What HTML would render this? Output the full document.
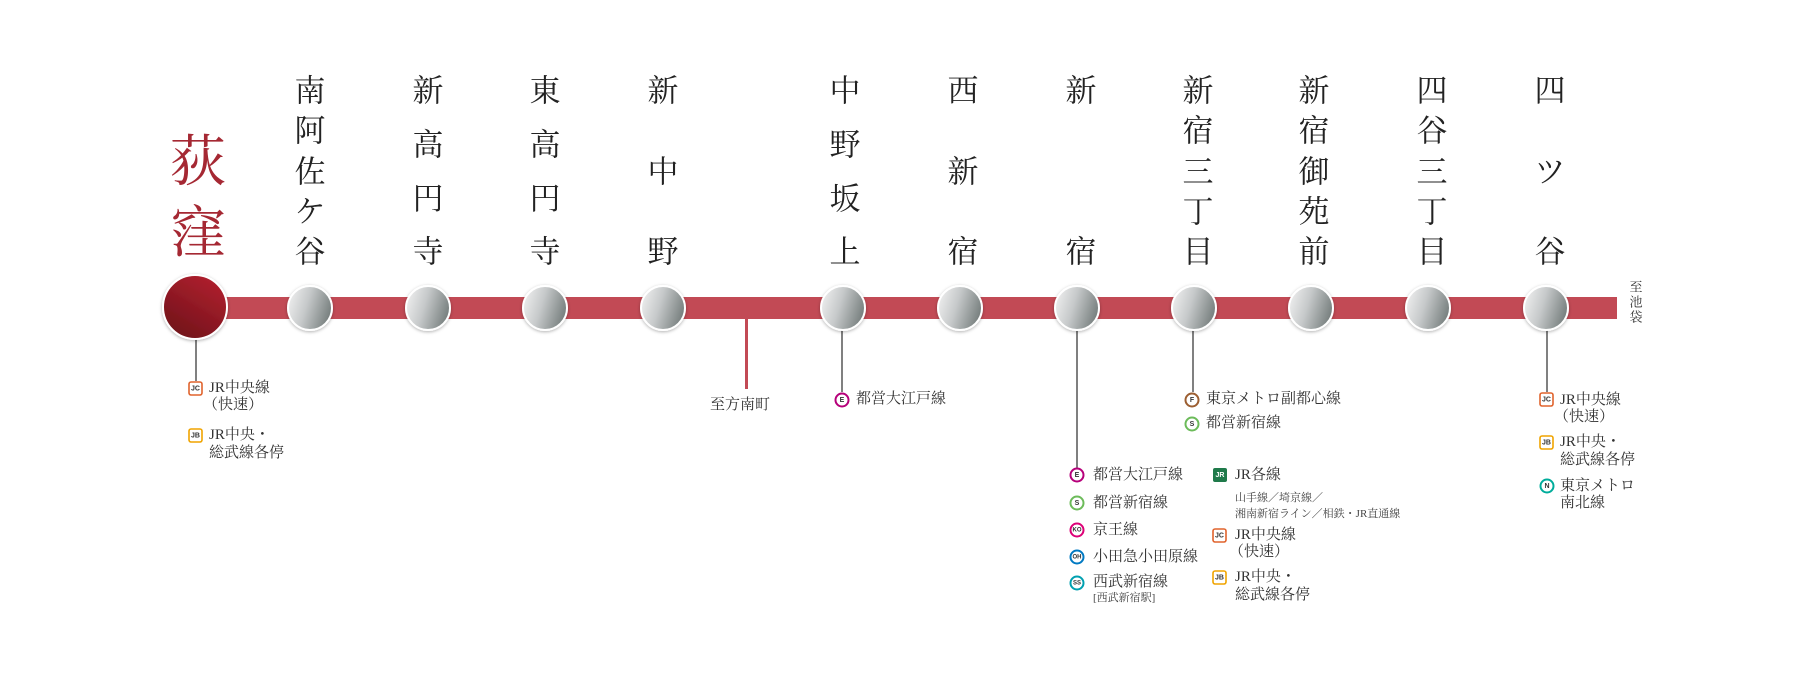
<!DOCTYPE html>
<html><head><meta charset="utf-8">
<style>
html,body{margin:0;padding:0;background:#fff;}
svg{display:block;}
.st{font-family:"Liberation Serif","Noto Serif CJK SC",serif;font-size:31px;fill:#222;}
.lb{font-family:"Liberation Serif","Noto Serif CJK SC",serif;font-size:15px;fill:#333;}
.sm{font-family:"Liberation Serif","Noto Serif CJK SC",serif;font-size:11px;fill:#444;}
.bd{font-family:"Liberation Sans",sans-serif;font-size:7px;font-weight:bold;}
</style></head><body>
<svg width="1808" height="693" viewBox="0 0 1808 693" xmlns="http://www.w3.org/2000/svg">
<defs>
<linearGradient id="g" x1="0" y1="0.2" x2="1" y2="0.5">
<stop offset="0" stop-color="#f0f0f0"/><stop offset="0.45" stop-color="#c6c9ca"/><stop offset="1" stop-color="#78807f"/></linearGradient>
<linearGradient id="r" x1="0.8" y1="0" x2="0.2" y2="1">
<stop offset="0" stop-color="#b2212f"/><stop offset="1" stop-color="#6e1119"/></linearGradient>
<filter id="sh" x="-30%" y="-30%" width="160%" height="160%"><feDropShadow dx="0" dy="1" stdDeviation="1.5" flood-color="#000" flood-opacity="0.3"/></filter>
</defs>
<rect x="195" y="297" width="1422" height="22" fill="#c24a55"/>
<rect x="745" y="308" width="3" height="81" fill="#c24a55"/>
<g stroke="#555" stroke-width="1.5">
<line x1="196" y1="330" x2="196" y2="381"/>
<line x1="842" y1="320" x2="842" y2="392"/>
<line x1="1077" y1="320" x2="1077" y2="469"/>
<line x1="1193" y1="320" x2="1193" y2="392"/>
<line x1="1547" y1="320" x2="1547" y2="392"/>
</g>
<circle cx="195" cy="307" r="32" fill="url(#r)" stroke="#fff" stroke-width="2" filter="url(#sh)"/>
<g fill="url(#g)" stroke="#fff" stroke-width="2" filter="url(#sh)">
<circle cx="310" cy="308" r="22"/><circle cx="428" cy="308" r="22"/><circle cx="545" cy="308" r="22"/>
<circle cx="663" cy="308" r="22"/><circle cx="843" cy="308" r="22"/><circle cx="960" cy="308" r="22"/>
<circle cx="1077" cy="308" r="22"/><circle cx="1194" cy="308" r="22"/><circle cx="1311" cy="308" r="22"/>
<circle cx="1428" cy="308" r="22"/><circle cx="1546" cy="308" r="22"/>
</g>
<g font-family="'Liberation Serif','Noto Serif CJK SC',serif" font-size="56" fill="#a52833" text-anchor="middle" dominant-baseline="central">
<text x="198" y="163">荻</text><text x="198" y="234">窪</text></g>
<g class="st" text-anchor="middle" dominant-baseline="central">
<text x="310" y="91">南</text><text x="310" y="131">阿</text><text x="310" y="172">佐</text><text x="310" y="212">ケ</text><text x="310" y="252">谷</text>
<text x="428" y="91">新</text><text x="428" y="145">高</text><text x="428" y="199">円</text><text x="428" y="252">寺</text>
<text x="545" y="91">東</text><text x="545" y="145">高</text><text x="545" y="199">円</text><text x="545" y="252">寺</text>
<text x="663" y="91">新</text><text x="663" y="172">中</text><text x="663" y="252">野</text>
<text x="845" y="91">中</text><text x="845" y="145">野</text><text x="845" y="199">坂</text><text x="845" y="252">上</text>
<text x="963" y="91">西</text><text x="963" y="172">新</text><text x="963" y="252">宿</text>
<text x="1081" y="91">新</text><text x="1081" y="252">宿</text>
<text x="1198" y="91">新</text><text x="1198" y="131">宿</text><text x="1198" y="172">三</text><text x="1198" y="212">丁</text><text x="1198" y="252">目</text>
<text x="1314" y="91">新</text><text x="1314" y="131">宿</text><text x="1314" y="172">御</text><text x="1314" y="212">苑</text><text x="1314" y="252">前</text>
<text x="1432" y="91">四</text><text x="1432" y="131">谷</text><text x="1432" y="172">三</text><text x="1432" y="212">丁</text><text x="1432" y="252">目</text>
<text x="1550" y="91">四</text><text x="1550" y="172">ツ</text><text x="1550" y="252">谷</text>
</g>
<g class="lb" text-anchor="middle" dominant-baseline="central">
<text x="1636" y="287" style="font-size:13px">至</text><text x="1636" y="302" style="font-size:13px">池</text><text x="1636" y="317" style="font-size:13px">袋</text></g>
<text class="lb" x="740" y="409" text-anchor="middle">至方南町</text>
<g class="lb" dominant-baseline="central">
<rect x="189" y="382" width="13" height="13" rx="2" fill="#fff" stroke="#e0632d" stroke-width="1.6"/><text class="bd" x="195.5" y="389" text-anchor="middle" fill="#333">JC</text>
<text x="209" y="388">JR中央線</text><text x="203" y="405">（快速）</text>
<rect x="189" y="429" width="13" height="13" rx="2" fill="#fff" stroke="#f0a400" stroke-width="1.6"/><text class="bd" x="195.5" y="436" text-anchor="middle" fill="#333">JB</text>
<text x="209" y="435">JR中央・</text><text x="209" y="453">総武線各停</text>
<circle cx="842" cy="400" r="6.5" fill="#fff" stroke="#b6007a" stroke-width="2"/><text class="bd" x="842" y="400.5" text-anchor="middle">E</text>
<text x="856" y="399">都営大江戸線</text>
<circle cx="1077" cy="475" r="6.5" fill="#fff" stroke="#b6007a" stroke-width="2"/><text class="bd" x="1077" y="475.5" text-anchor="middle">E</text>
<text x="1093" y="475">都営大江戸線</text>
<circle cx="1077" cy="503" r="6.5" fill="#fff" stroke="#6cbb5a" stroke-width="2"/><text class="bd" x="1077" y="503.5" text-anchor="middle">S</text>
<text x="1093" y="503">都営新宿線</text>
<circle cx="1077" cy="530" r="6.5" fill="#fff" stroke="#dd0077" stroke-width="2"/><text class="bd" x="1077" y="530.5" text-anchor="middle" style="font-size:6px">KO</text>
<text x="1093" y="530">京王線</text>
<circle cx="1077" cy="557" r="6.5" fill="#fff" stroke="#0079c2" stroke-width="2"/><text class="bd" x="1077" y="557.5" text-anchor="middle" style="font-size:6px">OH</text>
<text x="1093" y="557">小田急小田原線</text>
<circle cx="1077" cy="583" r="6.5" fill="#fff" stroke="#00a0b0" stroke-width="2"/><text class="bd" x="1077" y="583.5" text-anchor="middle" style="font-size:6px">SS</text>
<text x="1093" y="582">西武新宿線</text>
<text class="sm" x="1093" y="598">[西武新宿駅]</text>
<rect x="1213" y="468" width="14" height="14" rx="2" fill="#1f7a4a"/><text class="bd" x="1220" y="475.5" text-anchor="middle" fill="#fff">JR</text>
<text x="1235" y="475">JR各線</text>
<text class="sm" x="1235" y="498">山手線／埼京線／</text>
<text class="sm" x="1235" y="514">湘南新宿ライン／相鉄・JR直通線</text>
<rect x="1213" y="529" width="13" height="13" rx="2" fill="#fff" stroke="#e0632d" stroke-width="1.6"/><text class="bd" x="1219.5" y="536" text-anchor="middle">JC</text>
<text x="1235" y="535">JR中央線</text><text x="1229" y="552">（快速）</text>
<rect x="1213" y="571" width="13" height="13" rx="2" fill="#fff" stroke="#f0a400" stroke-width="1.6"/><text class="bd" x="1219.5" y="578" text-anchor="middle">JB</text>
<text x="1235" y="577">JR中央・</text><text x="1235" y="595">総武線各停</text>
<circle cx="1192" cy="400" r="6.5" fill="#fff" stroke="#9c5e31" stroke-width="2"/><text class="bd" x="1192" y="400.5" text-anchor="middle">F</text>
<text x="1206" y="399">東京メトロ副都心線</text>
<circle cx="1192" cy="424" r="6.5" fill="#fff" stroke="#6cbb5a" stroke-width="2"/><text class="bd" x="1192" y="424.5" text-anchor="middle">S</text>
<text x="1206" y="423">都営新宿線</text>
<rect x="1540" y="393" width="13" height="13" rx="2" fill="#fff" stroke="#e0632d" stroke-width="1.6"/><text class="bd" x="1546.5" y="400" text-anchor="middle">JC</text>
<text x="1560" y="400">JR中央線</text><text x="1554" y="417">（快速）</text>
<rect x="1540" y="436" width="13" height="13" rx="2" fill="#fff" stroke="#f0a400" stroke-width="1.6"/><text class="bd" x="1546.5" y="443" text-anchor="middle">JB</text>
<text x="1560" y="442">JR中央・</text><text x="1560" y="460">総武線各停</text>
<circle cx="1547" cy="486" r="6.5" fill="#fff" stroke="#00ac9b" stroke-width="2"/><text class="bd" x="1547" y="486.5" text-anchor="middle">N</text>
<text x="1560" y="486">東京メトロ</text><text x="1560" y="503">南北線</text>
</g>
</svg>
</body></html>
